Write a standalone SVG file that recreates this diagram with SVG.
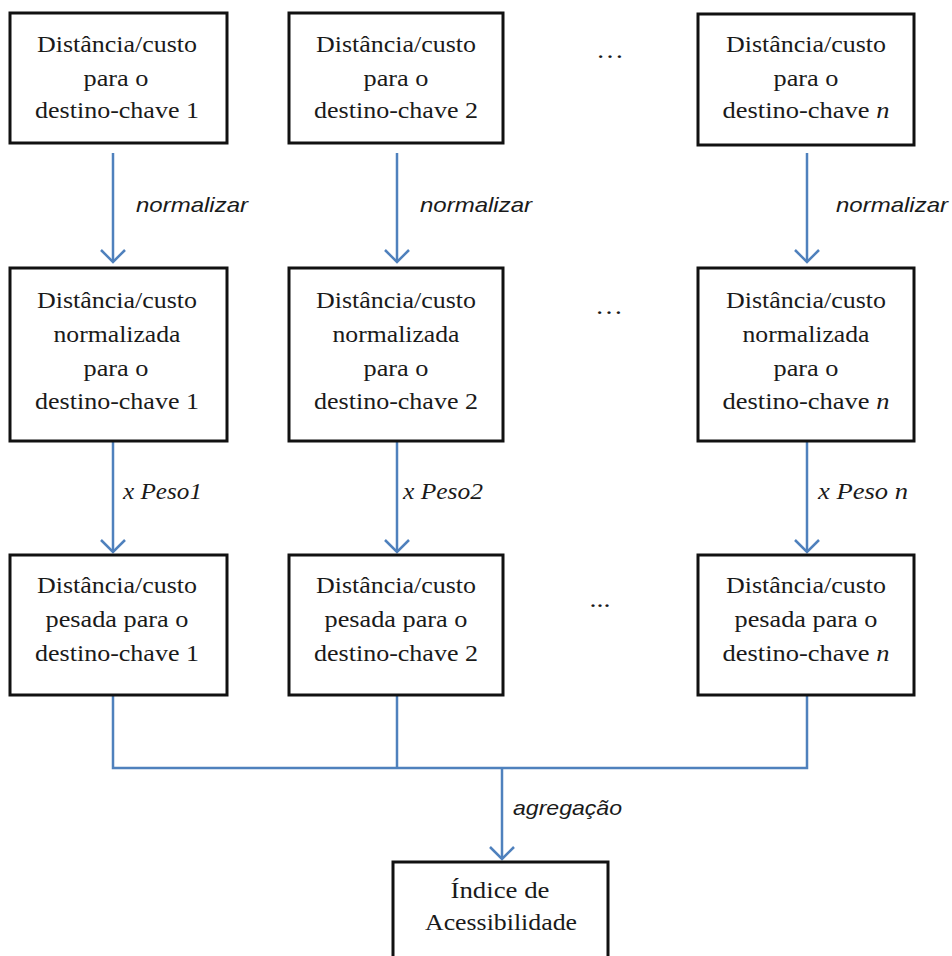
<svg xmlns="http://www.w3.org/2000/svg" width="952" height="956" viewBox="0 0 952 956">
<style>
.box{fill:#fff;stroke:#111;stroke-width:3}
.t{font-family:"Liberation Serif","Times New Roman",serif;font-size:23px;fill:#1a1a1a;text-anchor:middle}
.ts{font-family:"Liberation Serif","Times New Roman",serif;font-size:23px;font-style:italic;fill:#1a1a1a}
.lab{font-family:"Liberation Sans",Arial,sans-serif;font-size:21px;font-style:italic;fill:#1a1a1a}
.c{fill:none;stroke:#4F81BD;stroke-width:2.5}
</style>
<defs>
<marker id="ah" markerWidth="16" markerHeight="28" refX="13" refY="13" viewBox="0 0 16 26" markerUnits="userSpaceOnUse" orient="auto">
<path d="M1,1 L13,13 L1,25" fill="none" stroke="#4F81BD" stroke-width="2.5"/>
</marker>
</defs>
<rect width="952" height="956" fill="#fff"/>

<g id="connectors">
<line class="c" x1="113" y1="153" x2="113" y2="262" marker-end="url(#ah)"/>
<line class="c" x1="397" y1="153" x2="397" y2="262" marker-end="url(#ah)"/>
<line class="c" x1="807" y1="153" x2="807" y2="262" marker-end="url(#ah)"/>
<line class="c" x1="113" y1="442" x2="113" y2="552" marker-end="url(#ah)"/>
<line class="c" x1="397" y1="442" x2="397" y2="552" marker-end="url(#ah)"/>
<line class="c" x1="807" y1="442" x2="807" y2="552" marker-end="url(#ah)"/>
<polyline class="c" points="113,696 113,768 807,768 807,696"/>
<line class="c" x1="397" y1="696" x2="397" y2="768"/>
<line class="c" x1="502" y1="768" x2="502" y2="859" marker-end="url(#ah)"/>
<text class="lab" x="136" y="212" textLength="112" lengthAdjust="spacingAndGlyphs">normalizar</text>
<text class="lab" x="420" y="212" textLength="112" lengthAdjust="spacingAndGlyphs">normalizar</text>
<text class="lab" x="836" y="212" textLength="112" lengthAdjust="spacingAndGlyphs">normalizar</text>
<text class="ts" x="123" y="499" textLength="79" lengthAdjust="spacingAndGlyphs">x Peso1</text>
<text class="ts" x="403" y="499" textLength="80" lengthAdjust="spacingAndGlyphs">x Peso2</text>
<text class="ts" x="818" y="499" textLength="90" lengthAdjust="spacingAndGlyphs">x Peso n</text>
<text class="lab" x="513" y="815" textLength="109" lengthAdjust="spacingAndGlyphs">agregação</text>
</g>

<g id="r1c1">
<rect class="box" x="10" y="13" width="217" height="130"/>
<text class="t" x="117" y="52" textLength="160" lengthAdjust="spacingAndGlyphs">Distância/custo</text>
<text class="t" x="116" y="86" textLength="65" lengthAdjust="spacingAndGlyphs">para o</text>
<text class="t" x="117" y="118" textLength="164" lengthAdjust="spacingAndGlyphs">destino-chave 1</text>
</g>
<g id="r1c2">
<rect class="box" x="289" y="13" width="214" height="130"/>
<text class="t" x="396" y="52" textLength="160" lengthAdjust="spacingAndGlyphs">Distância/custo</text>
<text class="t" x="396" y="86" textLength="65" lengthAdjust="spacingAndGlyphs">para o</text>
<text class="t" x="396" y="118" textLength="164" lengthAdjust="spacingAndGlyphs">destino-chave 2</text>
</g>
<g id="r1dots"><text class="t" x="610" y="58" textLength="28" lengthAdjust="spacingAndGlyphs">…</text></g>
<g id="r1cn">
<rect class="box" x="698" y="14" width="216" height="131"/>
<text class="t" x="806" y="52" textLength="160" lengthAdjust="spacingAndGlyphs">Distância/custo</text>
<text class="t" x="806" y="86" textLength="65" lengthAdjust="spacingAndGlyphs">para o</text>
<text class="t" x="806" y="118" textLength="167" lengthAdjust="spacingAndGlyphs">destino-chave <tspan font-style="italic">n</tspan></text>
</g>

<g id="r2c1">
<rect class="box" x="10" y="268" width="217" height="173"/>
<text class="t" x="117" y="308" textLength="160" lengthAdjust="spacingAndGlyphs">Distância/custo</text>
<text class="t" x="117" y="342" textLength="127" lengthAdjust="spacingAndGlyphs">normalizada</text>
<text class="t" x="116" y="376" textLength="65" lengthAdjust="spacingAndGlyphs">para o</text>
<text class="t" x="117" y="409" textLength="164" lengthAdjust="spacingAndGlyphs">destino-chave 1</text>
</g>
<g id="r2c2">
<rect class="box" x="289" y="268" width="214" height="173"/>
<text class="t" x="396" y="308" textLength="160" lengthAdjust="spacingAndGlyphs">Distância/custo</text>
<text class="t" x="396" y="342" textLength="127" lengthAdjust="spacingAndGlyphs">normalizada</text>
<text class="t" x="396" y="376" textLength="65" lengthAdjust="spacingAndGlyphs">para o</text>
<text class="t" x="396" y="409" textLength="164" lengthAdjust="spacingAndGlyphs">destino-chave 2</text>
</g>
<g id="r2dots"><text class="t" x="609" y="314" textLength="28" lengthAdjust="spacingAndGlyphs">…</text></g>
<g id="r2cn">
<rect class="box" x="698" y="268" width="216" height="173"/>
<text class="t" x="806" y="308" textLength="160" lengthAdjust="spacingAndGlyphs">Distância/custo</text>
<text class="t" x="806" y="342" textLength="127" lengthAdjust="spacingAndGlyphs">normalizada</text>
<text class="t" x="806" y="376" textLength="65" lengthAdjust="spacingAndGlyphs">para o</text>
<text class="t" x="806" y="409" textLength="167" lengthAdjust="spacingAndGlyphs">destino-chave <tspan font-style="italic">n</tspan></text>
</g>

<g id="r3c1">
<rect class="box" x="10" y="555" width="217" height="140"/>
<text class="t" x="117" y="593" textLength="160" lengthAdjust="spacingAndGlyphs">Distância/custo</text>
<text class="t" x="117" y="627" textLength="143" lengthAdjust="spacingAndGlyphs">pesada para o</text>
<text class="t" x="117" y="661" textLength="164" lengthAdjust="spacingAndGlyphs">destino-chave 1</text>
</g>
<g id="r3c2">
<rect class="box" x="289" y="555" width="214" height="140"/>
<text class="t" x="396" y="593" textLength="160" lengthAdjust="spacingAndGlyphs">Distância/custo</text>
<text class="t" x="396" y="627" textLength="143" lengthAdjust="spacingAndGlyphs">pesada para o</text>
<text class="t" x="396" y="661" textLength="164" lengthAdjust="spacingAndGlyphs">destino-chave 2</text>
</g>
<g id="r3dots"><text class="t" x="600" y="607" textLength="21" lengthAdjust="spacingAndGlyphs">...</text></g>
<g id="r3cn">
<rect class="box" x="698" y="555" width="216" height="140"/>
<text class="t" x="806" y="593" textLength="160" lengthAdjust="spacingAndGlyphs">Distância/custo</text>
<text class="t" x="806" y="627" textLength="143" lengthAdjust="spacingAndGlyphs">pesada para o</text>
<text class="t" x="806" y="661" textLength="167" lengthAdjust="spacingAndGlyphs">destino-chave <tspan font-style="italic">n</tspan></text>
</g>

<g id="indice">
<rect class="box" x="393" y="862" width="215" height="120"/>
<text class="t" x="500" y="898" textLength="99" lengthAdjust="spacingAndGlyphs">Índice de</text>
<text class="t" x="501" y="930" textLength="152" lengthAdjust="spacingAndGlyphs">Acessibilidade</text>
</g>
</svg>
